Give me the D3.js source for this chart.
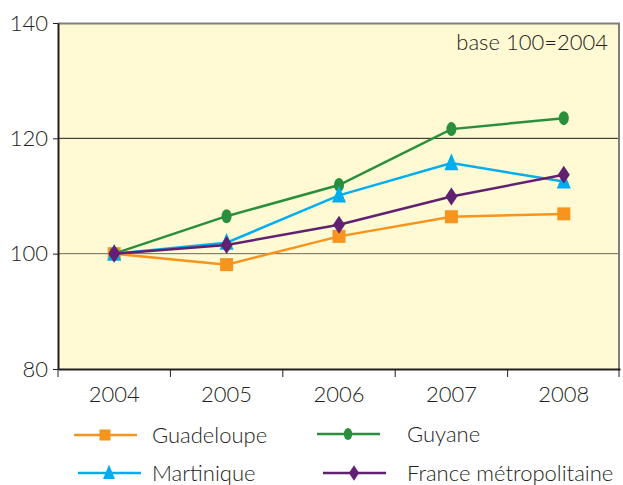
<!DOCTYPE html>
<html>
<head>
<meta charset="utf-8">
<script src="https://cdn.jsdelivr.net/npm/d3@7"></script>
<style>
  body { margin: 0; background: #fff; }
  svg text { font-family: "Lato", "Open Sans", sans-serif; font-weight: 300; fill: #231f20; }
</style>
</head>
<body>
<div id="chart"></div>
<script>
const years = ["2004", "2005", "2006", "2007", "2008"];
const yTicks = [80, 100, 120, 140];
const guadeloupe = [100, 98.1, 103, 106.4, 106.9];
const guyane = [100, 106.5, 111.9, 121.6, 123.5];
const martinique = [100, 101.9, 110.1, 115.7, 112.5];
const france = [100, 101.5, 105, 109.9, 113.7];

const series = [
  { name: "Guadeloupe", values: guadeloupe, color: "#f7941d", shape: "square" },
  { name: "Guyane", values: guyane, color: "#2a8f3c", shape: "circle" },
  { name: "Martinique", values: martinique, color: "#00aeef", shape: "triangle" },
  { name: "France métropolitaine", values: france, color: "#5f2170", shape: "diamond" }
];

const width = 623, height = 485;
const margin = { top: 23, right: 3, bottom: 116, left: 58 };
const innerWidth = width - margin.left - margin.right;
const innerHeight = height - margin.top - margin.bottom;

const svg = d3.select("#chart").append("svg")
  .attr("width", width)
  .attr("height", height);

const chart = svg.append("g")
  .attr("transform", `translate(${margin.left}, ${margin.top})`);

const x = d3.scaleBand().domain(years).range([0, innerWidth]);
const y = d3.scaleLinear().domain([80, 140]).range([innerHeight, 0]);

// background
chart.append("rect")
  .attr("width", innerWidth)
  .attr("height", innerHeight)
  .attr("fill", "#fffad3");

// gridlines
chart.selectAll(".grid").data([100, 120]).join("line")
  .attr("x1", 0).attr("x2", innerWidth)
  .attr("y1", d => y(d)).attr("y2", d => y(d))
  .attr("stroke", d => d === 100 ? "#6d6a5a" : "#1a1a1a")
  .attr("stroke-width", 1);

// frame: top/right grey
chart.append("path")
  .attr("d", `M0,0.5H${innerWidth - 1}V${innerHeight}`)
  .attr("fill", "none")
  .attr("stroke", "#7f7f7f")
  .attr("stroke-width", 2);

// y axis
const yAxis = chart.append("g")
  .call(d3.axisLeft(y).tickValues(yTicks).tickSize(5).tickSizeOuter(0));
yAxis.select(".domain").attr("stroke", "#231f20").attr("stroke-width", 2);
yAxis.selectAll(".tick line").attr("stroke", "#231f20");
yAxis.selectAll(".tick text").attr("font-size", 22).attr("x", -10).attr("fill", "#231f20");

// x axis
const xAxis = chart.append("g")
  .attr("transform", `translate(0, ${innerHeight})`)
  .call(d3.axisBottom(x).tickSize(0));
xAxis.select(".domain").attr("stroke", "#231f20").attr("stroke-width", 2);
xAxis.selectAll(".tick text").attr("font-size", 22).attr("y", 33).attr("dy", 0).attr("fill", "#231f20");
// boundary ticks between categories
const bounds = years.map(d => x(d)).concat([innerWidth - 1]);
xAxis.selectAll(".bound").data(bounds).join("line")
  .attr("x1", d => d).attr("x2", d => d)
  .attr("y1", 0).attr("y2", 8)
  .attr("stroke", "#231f20");

// note
chart.append("text")
  .attr("x", innerWidth - 12)
  .attr("y", 27)
  .attr("text-anchor", "end")
  .attr("font-size", 22)
  .text("base 100=2004");

function marker(g, shape, color, cx, cy, k = 1) {
  if (shape === "square") {
    g.append("rect").attr("x", cx - 6.5 * k).attr("y", cy - 6.5 * k)
      .attr("width", 13 * k).attr("height", 13 * k).attr("fill", color);
  } else if (shape === "circle") {
    g.append("ellipse").attr("cx", cx).attr("cy", cy)
      .attr("rx", 5 * k).attr("ry", 7 * k).attr("fill", color);
  } else if (shape === "triangle") {
    g.append("path").attr("d", `M${cx},${cy - 10 * k}L${cx + 7 * k},${cy + 7 * k}L${cx - 7 * k},${cy + 7 * k}Z`)
      .attr("fill", color);
  } else {
    g.append("path").attr("d", `M${cx},${cy - 9 * k}L${cx + 6 * k},${cy}L${cx},${cy + 9 * k}L${cx - 6 * k},${cy}Z`)
      .attr("fill", color);
  }
}

const line = d3.line()
  .x((d, i) => x(years[i]) + x.bandwidth() / 2)
  .y(d => y(d));

series.forEach(s => {
  const g = chart.append("g");
  g.append("path")
    .attr("d", line(s.values))
    .attr("fill", "none")
    .attr("stroke", s.color)
    .attr("stroke-width", 2.5);
  s.values.forEach((v, i) => marker(g, s.shape, s.color, x(years[i]) + x.bandwidth() / 2, y(v)));
});

// legend
const legendPos = [
  { lx: 74, ly: 435, tx: 152 },
  { lx: 317, ly: 434, tx: 407 },
  { lx: 78, ly: 473, tx: 152 },
  { lx: 323, ly: 473, tx: 407 }
];
series.forEach((s, i) => {
  const p = legendPos[i];
  const g = svg.append("g");
  g.append("line")
    .attr("x1", p.lx).attr("x2", p.lx + 63)
    .attr("y1", p.ly).attr("y2", p.ly)
    .attr("stroke", s.color).attr("stroke-width", 2.5);
  marker(g, s.shape, s.color, p.lx + 31, p.ly, 0.85);
  g.append("text")
    .attr("x", p.tx).attr("y", p.ly + 8)
    .attr("font-size", 22)
    .text(s.name);
});
</script>
</body>
</html>
